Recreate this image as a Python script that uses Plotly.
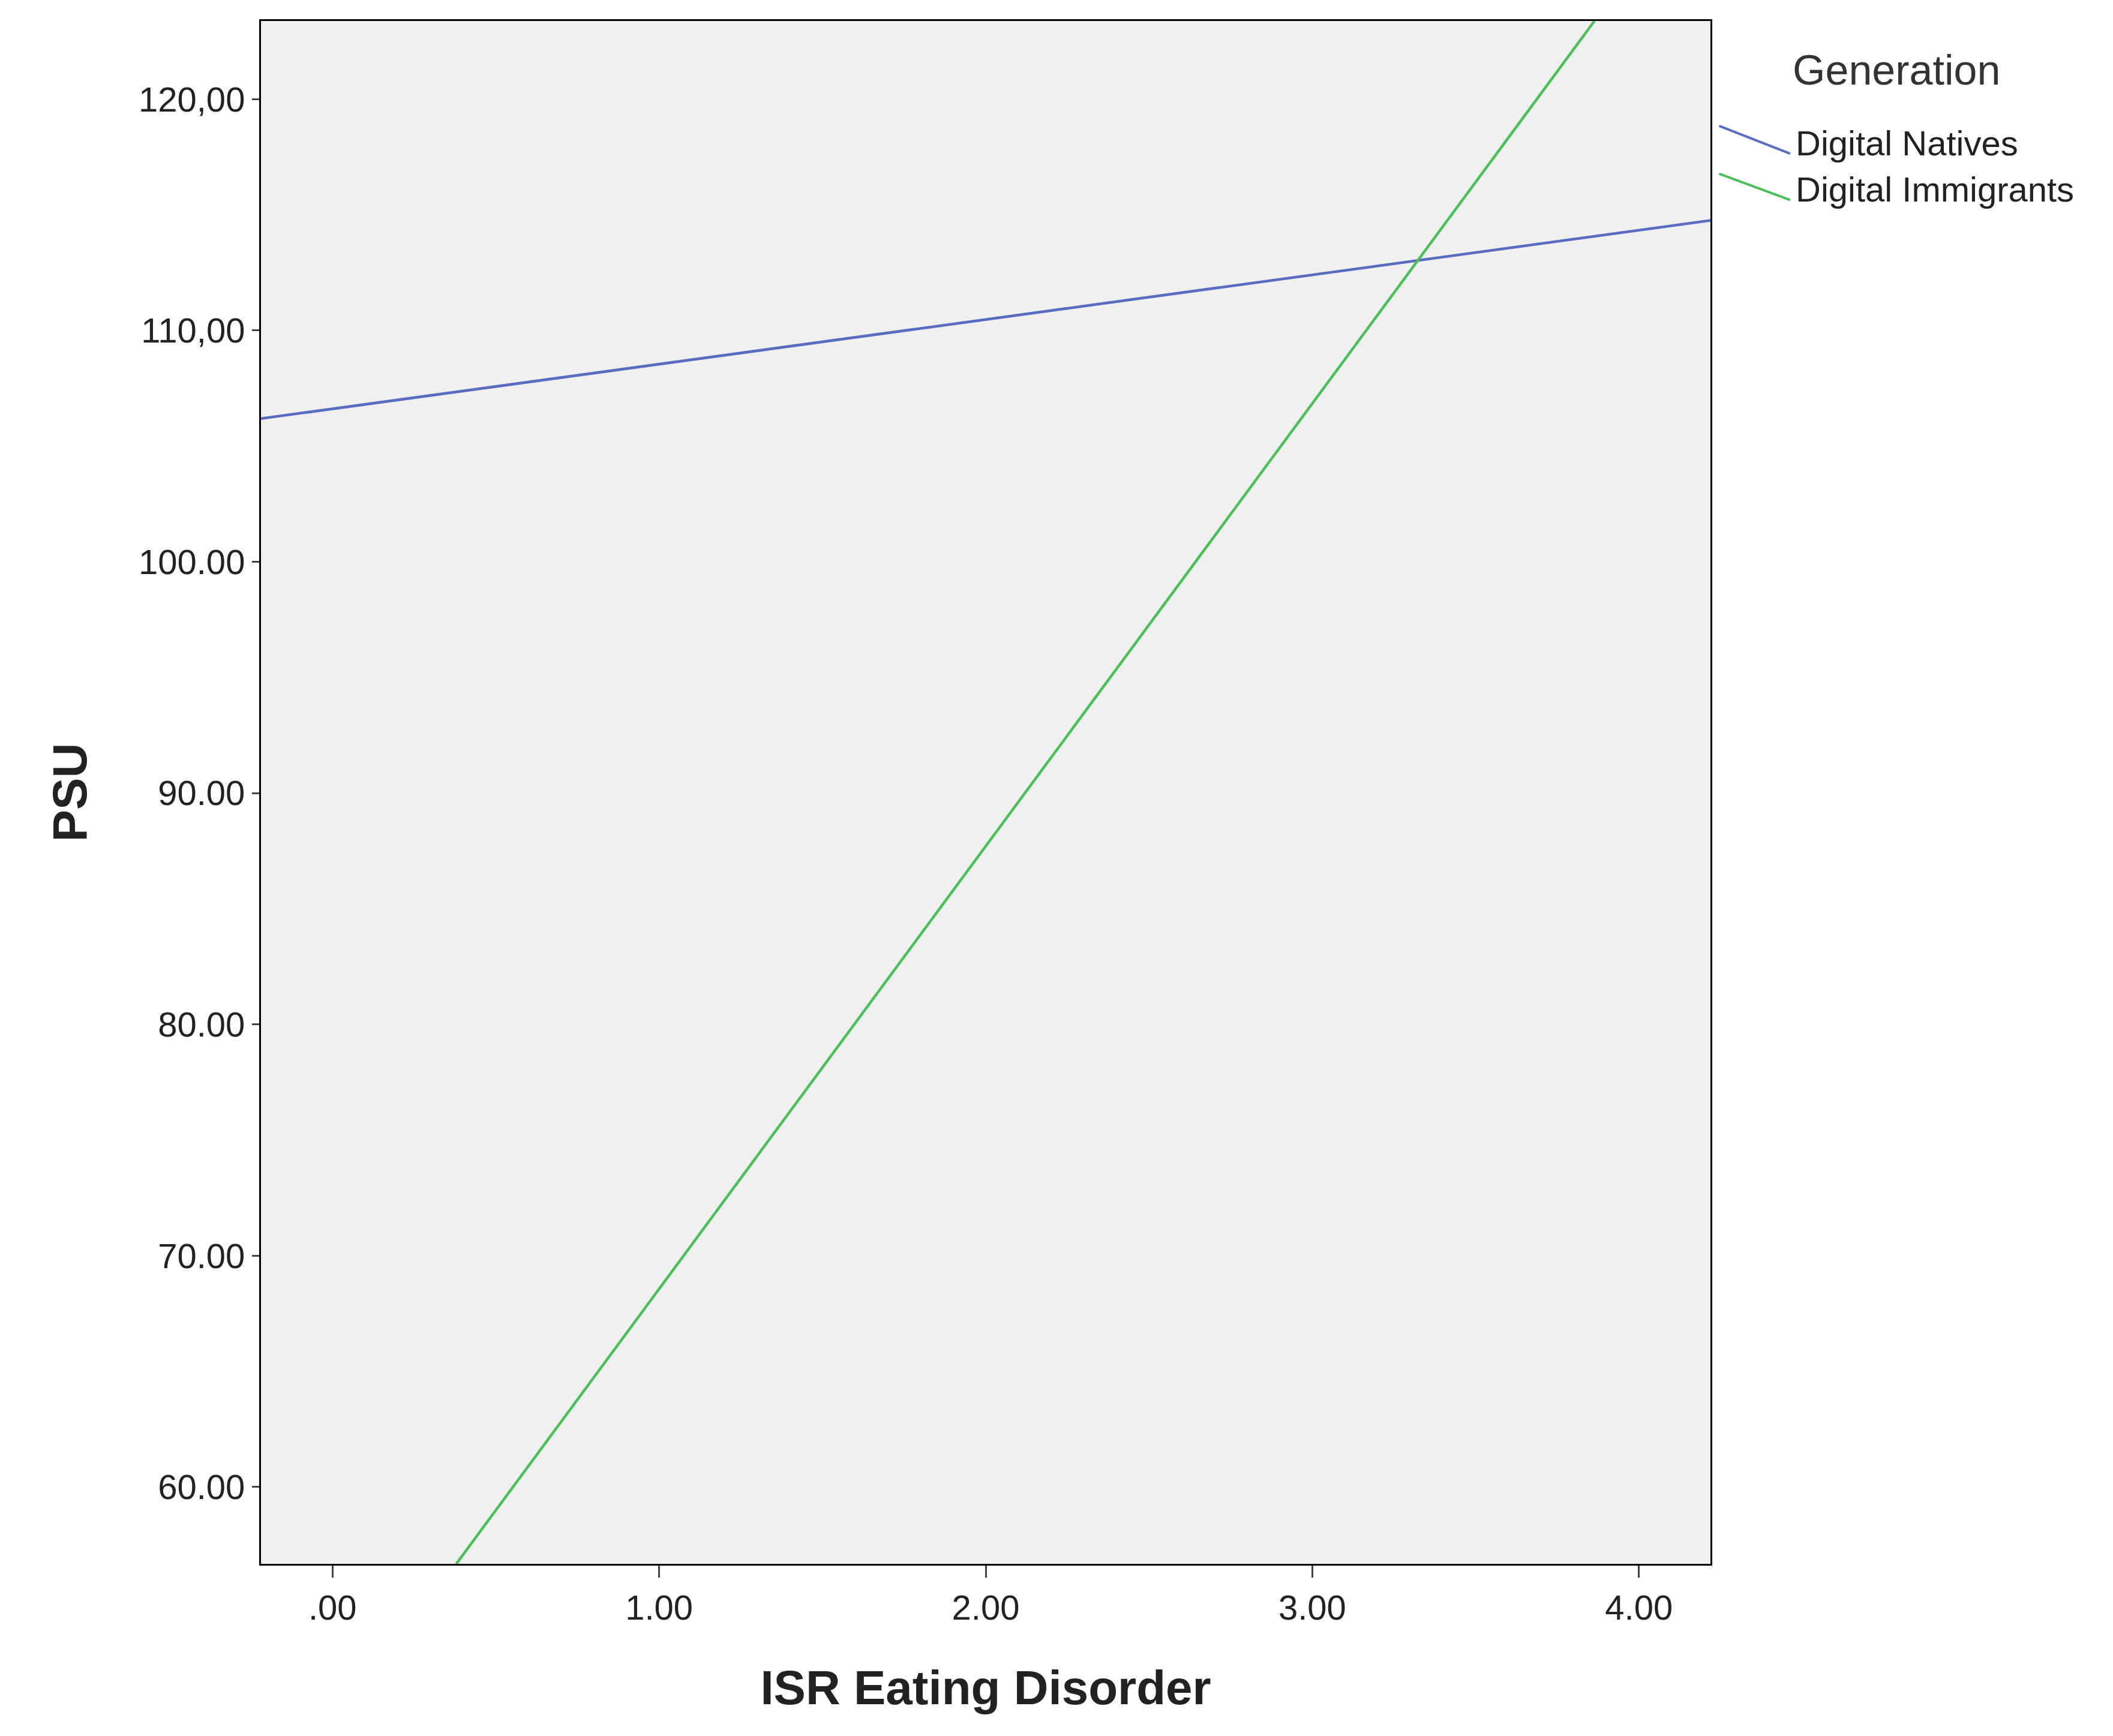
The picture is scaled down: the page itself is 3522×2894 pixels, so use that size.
import plotly.graph_objects as go

natives_x = [-0.219, 4.219]
natives_y = [106.19, 114.76]
immigrants_x = [0.379, 3.864]
immigrants_y = [56.68, 123.38]
x_ticks = [0, 1, 2, 3, 4]
x_labels = [".00", "1.00", "2.00", "3.00", "4.00"]
y_ticks = [60, 70, 80, 90, 100, 110, 120]
y_labels = ["60.00", "70.00", "80.00", "90.00", "100.00", "110,00", "120,00"]

BLUE = "#5a6cc0"
GREEN = "#4cbf5a"
FONT = "Liberation Sans, Arial, sans-serif"

fig = go.Figure()
fig.add_trace(go.Scatter(x=natives_x, y=natives_y, mode="lines", line=dict(color=BLUE, width=4.5), showlegend=False))
fig.add_trace(go.Scatter(x=immigrants_x, y=immigrants_y, mode="lines", line=dict(color=GREEN, width=4.5), showlegend=False))

fig.update_layout(
    width=3522, height=2894,
    margin=dict(l=427, r=679, t=27, b=295),
    paper_bgcolor="white", plot_bgcolor="#f0f0f0",
    font=dict(family=FONT, color="#222"),
)
fig.update_xaxes(range=[-0.219, 4.219], tickvals=x_ticks, ticktext=x_labels,
                 tickfont=dict(size=58), ticks="outside", ticklen=20, tickwidth=3,
                 showline=True, linecolor="black", linewidth=3, mirror=True, showgrid=False, zeroline=False,
                 title=dict(text="<b>ISR Eating Disorder</b>", font=dict(size=80), standoff=75))
fig.update_yaxes(range=[56.68, 123.38], tickvals=y_ticks, ticktext=y_labels,
                 tickfont=dict(size=58), ticks="outside", ticklen=12, tickwidth=3,
                 showline=True, linecolor="black", linewidth=3, mirror=True, showgrid=False, zeroline=False,
                 title=dict(text="<b>PSU</b>", font=dict(size=80), standoff=60))

fig.add_shape(type="line", xref="paper", yref="paper", x0=1.006, y0=0.932, x1=1.055, y1=0.914, line=dict(color=BLUE, width=4))
fig.add_shape(type="line", xref="paper", yref="paper", x0=1.006, y0=0.901, x1=1.055, y1=0.884, line=dict(color=GREEN, width=4))
fig.add_annotation(xref="paper", yref="paper", x=1.056, y=0.968, text="Generation", showarrow=False,
                   xanchor="left", yanchor="middle", font=dict(size=70, color="#333"))
fig.add_annotation(xref="paper", yref="paper", x=1.058, y=0.921, text="Digital Natives", showarrow=False,
                   xanchor="left", yanchor="middle", font=dict(size=58))
fig.add_annotation(xref="paper", yref="paper", x=1.058, y=0.891, text="Digital Immigrants", showarrow=False,
                   xanchor="left", yanchor="middle", font=dict(size=58))

fig.write_html("out.html")
